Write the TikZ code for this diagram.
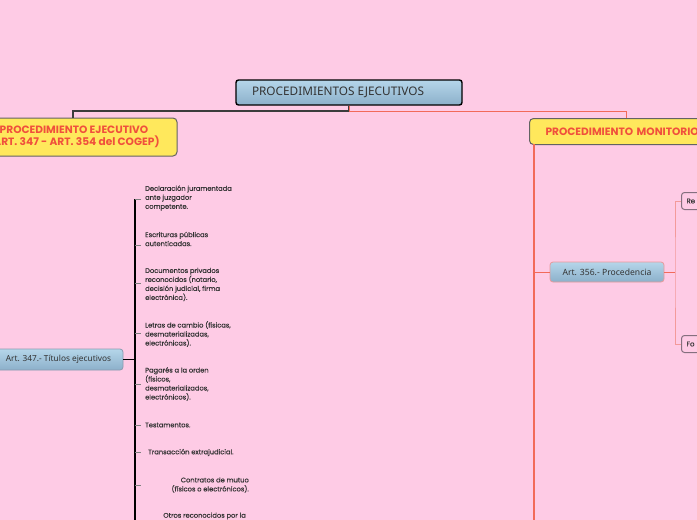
\documentclass[tikz,border=0pt]{standalone}
\usepackage{fontspec}
\setmainfont{Noto Sans}
\newfontfamily\popf{Poppins}
\newfontfamily\popi[FakeBold=0.35]{Poppins}
\definecolor{bg}{HTML}{FECBE5}
\definecolor{blueT}{HTML}{B5D6EA}
\definecolor{blueB}{HTML}{8CB0CA}
\definecolor{ylw}{HTML}{FFE85C}
\definecolor{redt}{HTML}{F0503C}
\definecolor{redl}{HTML}{F26A5A}
\definecolor{pinkl}{HTML}{F39A9A}
\definecolor{darkl}{HTML}{3C3C3C}
\definecolor{txt}{HTML}{333333}
\definecolor{subb}{HTML}{8A9BB0}
\definecolor{subr}{HTML}{E89A9A}
\definecolor{leafb}{HTML}{85707F}
\tikzset{
  rootbox/.style={draw=black, line width=1.4pt, rounded corners=2.5pt, top color=blueT, bottom color=blueB, text=txt, minimum width=226pt, minimum height=25pt, inner sep=0pt, font=\fontsize{11.8}{13}\selectfont},
  mainbox/.style={draw=darkl!80, line width=1pt, rounded corners=4pt, fill=ylw, text=redt, inner sep=0pt, font=\popf\bfseries\fontsize{10.6}{12.5}\selectfont},
  subbox/.style={line width=0.8pt, rounded corners=3pt, top color=blueT, bottom color=blueB, text=txt, inner sep=0pt},
  leafbox/.style={draw=leafb, line width=1pt, rounded corners=3pt, fill=bg, text=txt, inner xsep=5pt, text width=40pt, align=left, minimum height=17pt, font=\popi\fontsize{7}{8}\selectfont},
  item/.style={inner sep=0pt, text=txt, font=\popi\fontsize{6.7}{9}\selectfont},
  tick/.style={draw=gray, line width=0.6pt},
}
\begin{document}
\begin{tikzpicture}[x=1pt,y=-1pt]
\useasboundingbox (0,0) rectangle (697,520);
\fill[bg] (0,0) rectangle (697,520);
\clip (0,0) rectangle (697,520);

% root
\node[rootbox] (root) at (349,92.5) {\hspace*{-22pt}PROCEDIMIENTOS EJECUTIVOS};
\coordinate (j) at (349,111);

% main boxes
\node[mainbox, minimum width=206pt, minimum height=38pt, align=center] (pe) at (74,137) {PROCEDIMIENTO EJECUTIVO\\(ART. 347 - ART. 354 del COGEP)};
\node[mainbox, anchor=north west, minimum height=26pt, text width=176pt, inner xsep=16pt, align=left] (pm) at (529,118) {PROCEDIMIENTO MONITORIO};

\draw[darkl, line width=1.1pt] (root.south) -- (j) -| ([xshift=-1pt]pe.north);
\draw[redl, line width=1pt] (j) -| ([xshift=-112pt]pm.north east);
\draw[redl, line width=1pt] (root.south) -- (j);

% left sub
\node[subbox, draw=subb, minimum width=129pt, minimum height=21pt, font=\fontsize{8.3}{9}\selectfont] (a347) at (58.5,359.5) {Art. 347.- Títulos ejecutivos};
\coordinate (vt) at (135,199);
\coordinate (vb) at (135,520);
\draw[black, line width=1.2pt] (a347.east) -- (vt |- a347.east);
\draw[black, line width=1.3pt] (vt) -- (vb);

\node[item, anchor=west, align=left] (t1) at (145,198) {Declaración juramentada\\ante juzgador\\competente.};
\node[item, anchor=west, align=left] (t2) at (145,239) {Escrituras públicas\\autenticadas.};
\node[item, anchor=west, align=left] (t3) at (145,284.5) {Documentos privados\\reconocidos (notario,\\decisión judicial, firma\\electrónica).};
\node[item, anchor=west, align=left] (t4) at (145,334) {Letras de cambio (físicas,\\desmaterializadas,\\electrónicas).};
\node[item, anchor=west, align=left] (t5) at (145,384) {Pagarés a la orden\\(físicos,\\desmaterializados,\\electrónicos).};
\node[item, anchor=west, align=left] (t6) at (145,425) {Testamentos.};
\node[item, anchor=west, align=left] (t7) at (148,452.5) {Transacción extrajudicial.};
\node[item, anchor=east, align=right] (t8) at (249,485) {Contratos de mutuo\\(físicos o electrónicos).};
\node[item, anchor=east, align=right] (t9) at (246,516) {Otros reconocidos por la};

\foreach \t/\dy in {t1/1, t2/6, t3/-1.5, t4/-1, t5/0, t6/0, t7/0, t8/0} {
  \coordinate (tmp) at ([yshift=-\dy pt]\t.west);
  \draw[tick] (vt |- tmp) -- ++(6,0);
}

% right side
\coordinate (rv) at (534,144);
\coordinate (rb) at (534,520);
\draw[redl, line width=1.4pt] (rv) -- (rb);
\node[subbox, draw=subr, minimum width=114pt, minimum height=20pt, font=\fontsize{8.6}{10}\selectfont] (a356) at (607,272) {Art. 356.- Procedencia};
\draw[redl, line width=1pt] (rv |- a356.west) -- (a356.west);

\node[leafbox, anchor=north west] (re) at (681,192) {Re};
\node[leafbox, anchor=north west] (fo) at (681,335) {Fo};
\coordinate (rj) at (675,272);
\draw[redl, line width=1pt] (a356.east) -- (rj);
\draw[pinkl, line width=0.9pt] (re.west) -| (rj) |- (fo.west);
\end{tikzpicture}
\end{document}
